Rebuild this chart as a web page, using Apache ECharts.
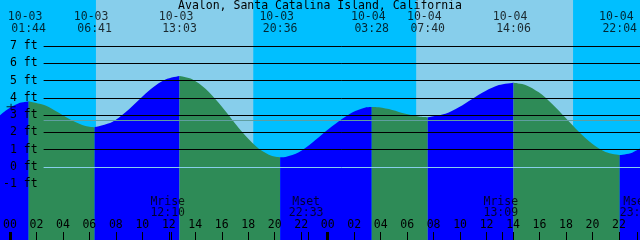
<!DOCTYPE html>
<html><head><meta charset="utf-8">
<script src="https://cdn.jsdelivr.net/npm/echarts@6/dist/echarts.min.js"></script>
<style>html,body{margin:0;padding:0;background:#00BFFF}#c{width:640px;height:240px}</style>
</head><body><div id="c"></div>
<script>
// ---------- data ----------
const chartTitle = 'Avalon, Santa Catalina Island, California';
const tideDates = ['10-03','10-03','10-03','10-03','10-04','10-04','10-04','10-04'];
const tideClock = ['01:44','06:41','13:03','20:36','03:28','07:40','14:06','22:04'];
const tideFeet  = [3.79, 2.30, 5.26, 0.56, 3.47, 2.88, 4.88, 0.69];
// hourly curve readings (hours from 10-03 00:00)
const sampleHours = [-1,0,1,3,4,5,6,8,9,10,11,12,14,15,16,17,18,19,20,21,22,23,24,25,26,27,28,29,30,31,33,34,35,36,37,39,40,41,42,43,44,45,47,48];
const sampleFeet  = [2.58,3.26,3.69,3.56,3.14,2.69,2.37,2.60,3.17,3.88,4.57,5.06,5.08,4.53,3.70,2.74,1.81,1.06,0.63,0.58,0.85,1.40,2.05,2.64,3.15,3.44,3.45,3.30,3.08,2.92,3.08,3.46,3.94,4.40,4.74,4.75,4.32,3.65,2.85,2.04,1.34,0.87,0.83,1.26];
const sunDates = ['10-03','10-03','10-04','10-04'];
const sunClock = ['06:47','18:35','06:48','18:34']; // rise, set, rise, set
const moonNames = ['Mrise','Mset','Mrise','Mset'];
const moonDates = ['10-03','10-03','10-04','10-04'];
const moonClock = ['12:10','22:33','13:09','23:22'];
const ftLabels = [-1,0,1,2,3,4,5,6,7];
const ftLines = [1,2,3,4,5,6,7];
const zeroLevel = 0;
const meanLevel = 2.70;
const nowMark = ['10-03','00:25',3.49];

// ---------- helpers ----------
const toHours = (d, c) => (parseInt(d.slice(3),10) - 3) * 24 + parseInt(c.slice(0,2),10) + parseInt(c.slice(3),10) / 60;
const FONT = 'DejaVu Sans Mono', FS = 11.5;
const W = 640, H = 240;
const PX_H = W / 48, X0 = 5.5, PX_FT = 121 / 7, Y0 = 167;
const xLo = -X0 / PX_H, xHi = (W - X0) / PX_H;
const yLo = (Y0 - H) / PX_FT, yHi = Y0 / PX_FT;
const labMin = -4, labMax = 9;
const gLab = { top: Y0 - labMax * PX_FT, bottom: H - (Y0 - labMin * PX_FT) };

const tideHours = tideDates.map((d, i) => toHours(d, tideClock[i]));
const pts = sampleHours.map((h, i) => ({ h, f: sampleFeet[i], ev: false }))
  .concat(tideHours.map((h, i) => ({ h, f: tideFeet[i], ev: true })))
  .sort((a, b) => a.h - b.h);
const segs = [];
let cur = [];
pts.forEach(p => {
  cur.push([p.h, p.f]);
  if (p.ev) { segs.push(cur); cur = [[p.h, p.f]]; }
});
segs.push(cur);

const sunH = sunDates.map((d, i) => toHours(d, sunClock[i]));
const moonH = moonDates.map((d, i) => toHours(d, moonClock[i]));

const txt = { fontFamily: FONT, fontSize: FS, color: '#000' };
const hiddenX = (g) => ({ type: 'value', gridIndex: g, min: xLo, max: xHi, show: false });
const hiddenY = (g, a, b) => ({ type: 'value', gridIndex: g, min: a, max: b, show: false });

const series = [];
// day bands
series.push({
  type: 'line', xAxisIndex: 0, yAxisIndex: 0, data: [], z: 1, silent: true,
  markArea: { silent: true, itemStyle: { color: '#87CEEB' },
    data: [[{ xAxis: sunH[0] }, { xAxis: sunH[1] }], [{ xAxis: sunH[2] }, { xAxis: sunH[3] }]] }
});
// black foot lines
series.push({
  type: 'line', xAxisIndex: 1, yAxisIndex: 1, data: [], z: 2, silent: true,
  markLine: { silent: true, symbol: ['none', 'none'], label: { show: false },
    lineStyle: { color: '#000', width: 1, type: 'solid' },
    data: ftLines.map(v => ({ yAxis: v })) }
});
// tide curve segments
segs.forEach(s => {
  const rising = s[s.length - 1][1] > s[0][1];
  const col = rising ? '#0000FF' : '#2E8B57';
  series.push({
    type: 'line', xAxisIndex: 0, yAxisIndex: 0, data: s, z: 3, silent: true,
    symbol: 'none', smooth: 0.3, lineStyle: { width: 0, opacity: 0 },
    areaStyle: { origin: 'start', color: col, opacity: 1 }
  });
});
// zero and mean lines over the fill
series.push({
  type: 'line', xAxisIndex: 1, yAxisIndex: 1, data: [], z: 4, silent: true,
  markLine: { silent: true, symbol: ['none', 'none'], label: { show: false },
    data: [
      { yAxis: zeroLevel, lineStyle: { color: '#87CEEB', width: 1, type: 'solid' } },
      { yAxis: meanLevel, lineStyle: { color: '#5F9EA0', width: 1, type: 'solid' } }
    ] }
});
// now marker
series.push({
  type: 'scatter', xAxisIndex: 0, yAxisIndex: 0, z: 5, silent: true,
  symbol: 'path://M0,2.5h9v1h-9z M4,0h1v6h-1z', symbolSize: [9, 6], symbolKeepAspect: false,
  itemStyle: { color: '#000' },
  data: [[toHours(nowMark[0], nowMark[1]), nowMark[2]]]
});
// tide time labels
series.push({
  type: 'scatter', xAxisIndex: 3, yAxisIndex: 3, z: 10, silent: true,
  symbolSize: 1, itemStyle: { color: 'rgba(0,0,0,0)' },
  label: { show: true, position: 'inside', lineHeight: 11.5, ...txt, textBorderWidth: 0,
    formatter: p => tideDates[p.dataIndex] + ' \n' + tideClock[p.dataIndex] },
  data: tideHours.map(h => [h, 0.5])
});
// moon labels
series.push({
  type: 'scatter', xAxisIndex: 4, yAxisIndex: 4, z: 10, silent: true,
  symbolSize: 1, itemStyle: { color: 'rgba(0,0,0,0)' },
  label: { show: true, position: 'inside', lineHeight: 11.5, ...txt, textBorderWidth: 0,
    formatter: p => moonNames[p.dataIndex] + '\n' + moonClock[p.dataIndex] },
  data: moonH.map(h => [h, 0.5])
});
// midnight + moon ticks
series.push({
  type: 'line', xAxisIndex: 2, yAxisIndex: 2, data: [], z: 10, silent: true,
  markLine: { silent: true, symbol: ['none', 'none'], label: { show: false },
    data: [0, 24].map(v => ({ xAxis: v, lineStyle: { color: '#000', width: 3, type: 'solid' } }))
      .concat(moonH.map(v => ({ xAxis: v, lineStyle: { color: '#000', width: 1, type: 'solid' } }))) }
});

const option = {
  animation: false,
  backgroundColor: '#00BFFF',
  title: { text: chartTitle, left: 'center', top: 0, padding: 0,
    textStyle: { ...txt, fontWeight: 'normal' } },
  grid: [
    { left: 0, right: 0, top: 0, bottom: 0 },
    { left: 39, right: 0, ...gLab },
    { left: X0, right: 0, bottom: 0, height: 8 },
    { left: 0, right: 0, top: 0, height: 46.5 },
    { left: 0, right: 0, top: 184, height: 47 }
  ],
  xAxis: [
    hiddenX(0),
    { type: 'value', gridIndex: 1, min: 0, max: 1, show: false },
    { type: 'value', gridIndex: 2, min: 0, max: xHi, interval: 2, position: 'bottom', z: 10,
      axisLine: { show: false }, splitLine: { show: false },
      axisTick: { show: true, inside: true, length: 8, lineStyle: { color: '#000', width: 1 } },
      axisLabel: { inside: true, margin: 9, showMaxLabel: false, ...txt,
        formatter: v => String(((v % 24) + 24) % 24).padStart(2, '0') } },
    hiddenX(3),
    hiddenX(4)
  ],
  yAxis: [
    hiddenY(0, yLo, yHi),
    { type: 'value', gridIndex: 1, min: labMin, max: labMax, interval: 1, z: 10,
      axisLine: { show: false }, axisTick: { show: false }, splitLine: { show: false },
      axisLabel: { margin: 6, ...txt, formatter: v => ftLabels.includes(v) ? v + ' ft' : '' } },
    hiddenY(2, 0, 1),
    hiddenY(3, 0, 1),
    hiddenY(4, 0, 1)
  ],
  series
};
const chart = echarts.init(document.getElementById('c'), null, { renderer: 'canvas' });
chart.setOption(option);
</script>
</body></html>
